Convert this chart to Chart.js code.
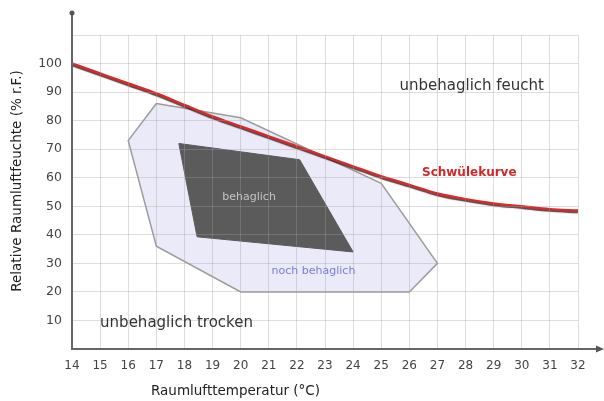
<!DOCTYPE html>
<html>
<head>
<meta charset="utf-8">
<script src="https://cdn.jsdelivr.net/npm/chart.js@4/dist/chart.umd.min.js"></script>
<style>
html,body{margin:0;padding:0;background:#fff}
#wrap{width:604px;height:401px}
</style>
</head>
<body>
<div id="wrap"><canvas id="chart"></canvas></div>
<script>
// Schwülekurve
const temps=[14,15,16,17,18,19,20,21,22,23,24,25,26,27,28,29,30,31,32]
const schwuele=[100,96.5,93,89.5,85.5,81.5,78,74.5,71,67.5,64,60.5,57.5,54.5,52.5,51,50,49,48.5]

// noch behaglich (outer zone)
const outerT=[17,20,25,27,26,20,17,16,17]
const outerRH=[86,81,58,30,20,20,36,73,86]

// behaglich (inner zone)
const innerT=[17.8,22.1,24,18.45,17.8]
const innerRH=[72,66.3,34,39.3,72]

const font="'DejaVu Sans', sans-serif"

function pts(xs,ys){
return xs.map((x,i)=>({x:x,y:ys[i]}))
}

// text labels placed in data units
const notes=[
{text:"unbehaglich feucht",t:25.65,rh:92,color:"#333",font:"15px "+font,align:"left"},
{text:"Schwülekurve",t:26.45,rh:61.8,color:"#d02828",font:"bold 12px "+font,align:"left"},
{text:"behaglich",t:20.3,rh:53.3,color:"#c4c4c4",font:"11px "+font,align:"center"},
{text:"noch behaglich",t:21.1,rh:27.4,color:"#7b7bdc",font:"11px "+font,align:"left"},
{text:"unbehaglich trocken",t:15,rh:9.1,color:"#333",font:"15px "+font,align:"left"}
]

const extras={
id:"extras",
beforeDatasetDraw(chart,args){
if(args.index!==0)return
const ctx=chart.ctx
ctx.save()
ctx.shadowColor="rgba(40,0,0,0.75)"
ctx.shadowOffsetY=1.5
ctx.shadowBlur=1
},
afterDatasetDraw(chart,args){
if(args.index!==0)return
chart.ctx.restore()
},
afterDraw(chart){
const ctx=chart.ctx
const xs=chart.scales.x
const ys=chart.scales.y
const a=chart.chartArea

ctx.save()
// axis extensions with arrow ends
ctx.strokeStyle="#666"
ctx.fillStyle="#555"
ctx.lineWidth=2
ctx.beginPath()
ctx.moveTo(a.left,a.top)
ctx.lineTo(a.left,14)
ctx.moveTo(a.right,a.bottom)
ctx.lineTo(598,a.bottom)
ctx.stroke()
ctx.beginPath()
ctx.arc(a.left,13,2.5,0,Math.PI*2)
ctx.fill()
ctx.beginPath()
ctx.moveTo(604,a.bottom)
ctx.lineTo(596,a.bottom-3.5)
ctx.lineTo(596,a.bottom+3.5)
ctx.closePath()
ctx.fill()

// region labels
ctx.textBaseline="middle"
notes.forEach(n=>{
ctx.font=n.font
ctx.fillStyle=n.color
ctx.textAlign=n.align
ctx.fillText(n.text,xs.getPixelForValue(n.t),ys.getPixelForValue(n.rh))
})

// axis titles
ctx.fillStyle="#222"
ctx.font="13.5px "+font
ctx.textAlign="left"
ctx.fillText("Raumlufttemperatur (°C)",151,391)
ctx.translate(17,181)
ctx.rotate(-Math.PI/2)
ctx.textAlign="center"
ctx.fillText("Relative Raumluftfeuchte (% r.F.)",0,0)
ctx.restore()
}
}

new Chart(document.getElementById("chart"),{
type:"scatter",
data:{
datasets:[
{
label:"Schwülekurve",
data:pts(temps,schwuele),
showLine:true,
borderColor:"#d42c2c",
borderWidth:2.5,
pointRadius:0,
cubicInterpolationMode:"monotone",
fill:false,
order:0
},
{
label:"behaglich",
data:pts(innerT,innerRH),
showLine:true,
borderColor:"#5a5a5a",
borderWidth:1,
backgroundColor:"#5b5b5b",
pointRadius:0,
tension:0,
fill:"shape",
order:1
},
{
label:"noch behaglich",
data:pts(outerT,outerRH),
showLine:true,
borderColor:"#9c9c9c",
borderWidth:1.5,
backgroundColor:"#eaeaf9",
pointRadius:0,
tension:0,
fill:"shape",
order:2
}
]
},
options:{
responsive:true,
maintainAspectRatio:false,
animation:false,
layout:{padding:{top:35,right:26,left:0,bottom:0}},
plugins:{legend:{display:false},tooltip:{enabled:false}},
scales:{
x:{
type:"linear",
min:14,
max:32,
afterFit:s=>{s.height=52},
ticks:{stepSize:1,padding:10,color:"#444",font:{family:font,size:12}},
grid:{color:"rgba(160,160,160,0.35)",drawTicks:false,z:1},
border:{display:true,color:"#666",width:2,z:2}
},
y:{
min:0,
max:110,
afterFit:s=>{s.width=72},
ticks:{stepSize:10,padding:10,color:"#444",font:{family:font,size:12.5},
callback:v=>(v===0||v===110)?"":v},
grid:{color:"rgba(160,160,160,0.35)",drawTicks:false,z:1},
border:{display:true,color:"#666",width:2,z:2}
}
}
},
plugins:[extras]
})
</script>
</body>
</html>
